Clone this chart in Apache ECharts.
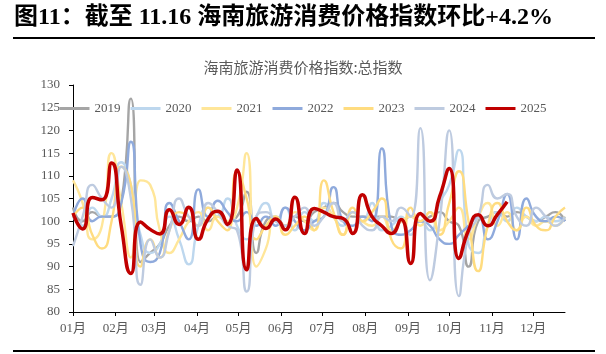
<!DOCTYPE html>
<html>
<head>
<meta charset="utf-8">
<script src="https://cdn.jsdelivr.net/npm/echarts@6/dist/echarts.min.js"></script>
<style>
  html, body { margin: 0; padding: 0; background: #fff; }
  #main { width: 606px; height: 354px; }
</style>
</head>
<body>
<div id="main"></div>
<script>
// weekly dates (all years mapped onto one calendar year)
const weekDates = [
  "01-05", "01-12", "01-19", "01-26", "02-02", "02-09", "02-16", "02-23",
  "03-02", "03-09", "03-16", "03-23", "03-30", "04-06", "04-13", "04-20",
  "04-27", "05-04", "05-11", "05-18", "05-25", "06-01", "06-08", "06-15",
  "06-22", "06-29", "07-06", "07-13", "07-20", "07-27", "08-03", "08-10",
  "08-17", "08-24", "08-31", "09-07", "09-14", "09-21", "09-28", "10-05",
  "10-12", "10-19", "10-26", "11-02", "11-09", "11-16", "11-23", "11-30",
  "12-07", "12-14", "12-21", "12-28",
];
const monthTicks = [
  "01-05", "02-05", "03-05", "04-05", "05-05", "06-05",
  "07-05", "08-05", "09-05", "10-05", "11-05", "12-05",
];
const monthLabels = [
  "01月", "02月", "03月", "04月", "05月", "06月",
  "07月", "08月", "09月", "10月", "11月", "12月",
];
const yearNames = ["2019", "2020", "2021", "2022", "2023", "2024", "2025"];

const v2019 = [103, 100, 102, 101, 101, 104, 127, 91, 93, 95, 99, 101, 100, 101, 100, 101, 100, 101, 106.5, 93, 100, 101, 99, 101, 100, 102, 103, 104, 102, 101, 101, 101, 101, 101, 100, 101, 100, 101, 102, 100, 99, 90, 100, 101, 102, 101, 102, 101, 100, 101, 102, 100];
const v2020 = [101, 99, 103, 101, 105, 113, 108, 97, 93, 95, 101, 96, 90.5, 99, 103, 101, 105, 99, 96, 101, 104, 100, 103, 98, 102, 100, 104, 101, 99, 102, 100, 104, 98, 99, 101, 97, 100, 98, 104, 108, 115.7, 95, 93, 99, 102, 100, 103, 101, 100, 101, 100, 101];
const v2021 = [109, 104, 96, 99, 115, 104, 92, 109, 108, 98, 93, 96, 100, 102, 98, 101, 100, 103, 115, 90, 94, 101, 99, 102, 100, 98, 103, 101, 97, 102, 100, 99, 101, 98, 100, 101, 99, 102, 98, 100, 103, 96, 101, 104, 99, 102, 98, 101, 99, 100, 99, 101];
const v2022 = [101, 105, 100, 101, 101, 104, 117.5, 95, 91, 93, 104, 100, 96, 107, 101, 104.5, 102, 100, 102, 99, 101, 99, 103, 100, 98, 100, 101, 107.5, 100, 99, 101, 100, 116, 99, 97, 98, 100, 99, 96, 95, 97, 99, 101, 96, 100, 106, 96, 105, 101, 100, 101, 100];
const v2023 = [101, 103, 97, 94, 100, 112, 108, 90, 96, 92, 98, 102, 101, 99, 103, 100, 98, 111, 105, 96, 99, 101, 97, 99, 101, 98, 109, 102, 97, 103, 100, 102, 105, 96, 94, 103, 100, 102, 97, 104, 111, 100, 89, 99, 104, 100, 98, 103, 99, 98, 101, 103];
const v2024 = [94.5, 101, 108, 105, 103, 112, 105, 86, 96, 92, 98, 105, 101, 99, 104, 102, 99, 98, 84.5, 101, 102, 100, 99, 101, 103, 99, 101, 104, 100, 102, 99, 98, 101, 100, 103, 101, 120.5, 87, 100, 120, 83.5, 97, 101, 108, 105, 106, 101, 99, 103, 101, 99, 101];
const v2025 = [101.8, 98.3, 105.2, 104.7, 112.8, 99, 88.5, 99.8, 98.2, 97.2, 102.5, 99.3, 103.1, 96, 100.5, 102.2, 99.3, 111.3, 89.3, 100.6, 98.4, 100.5, 98.1, 105.3, 97.3, 102.8, 102, 101, 100.6, 97.3, 105.8, 101, 99, 97.3, 100.4, 90.7, 101.7, 100, 105.4, 111.6, 91.8, 98, 101.4, 99, 101.5, 104.3];

const yearValues = [v2019, v2020, v2021, v2022, v2023, v2024, v2025];
const yearColors = ["#A5A5A5", "#BDD7EE", "#FFE699", "#8FAADC", "#FFDC80", "#BECBE0", "#C00000"];

const dayOf = (s) =>
  (Date.UTC(2025, +s.slice(0, 2) - 1, +s.slice(3)) - Date.UTC(2025, 0, 1)) / 86400000;
const tickDays = monthTicks.map(dayOf);

const serifFont = "'Times New Roman', 'Liberation Serif', 'Noto Sans CJK SC'";

const chart = echarts.init(document.getElementById("main"));

const series = yearNames.map((name, idx) => {
  const isLast = name === "2025";
  return {
    name: name,
    type: "line",
    smooth: 0.6,
    showSymbol: false,
    color: yearColors[idx],
    lineStyle: { color: yearColors[idx], width: isLast ? 3.5 : 2.4 },
    z: isLast ? 10 : 2,
    data: yearValues[idx].map((v, i) => [dayOf(weekDates[i]), v]),
  };
});

chart.setOption({
  animation: false,
  title: {
    text: "海南旅游消费价格指数:总指数",
    left: "center",
    top: 55,
    textStyle: {
      fontFamily: "'Noto Sans CJK SC'",
      fontSize: 15,
      fontWeight: "normal",
      color: "#595959",
    },
  },
  legend: {
    data: yearNames,
    left: "center",
    top: 97,
    icon: "rect",
    itemWidth: 30,
    itemHeight: 3,
    itemGap: 10,
    textStyle: { fontFamily: serifFont, fontSize: 13, color: "#595959" },
  },
  grid: { left: 73, right: 41, top: 85, bottom: 42 },
  xAxis: {
    type: "value",
    min: dayOf(weekDates[0]),
    max: dayOf(weekDates[weekDates.length - 1]),
    splitLine: { show: false },
    axisLine: { show: true, lineStyle: { color: "#000", width: 1 } },
    axisTick: {
      show: true,
      customValues: tickDays,
      length: 4,
      lineStyle: { color: "#000" },
    },
    axisLabel: {
      customValues: tickDays,
      margin: 10,
      fontFamily: serifFont,
      fontSize: 13,
      color: "#595959",
      formatter: (value) => monthLabels[tickDays.indexOf(value)] || "",
    },
  },
  yAxis: {
    type: "value",
    min: 80,
    max: 130,
    interval: 5,
    splitLine: { show: false },
    axisLine: { show: true, lineStyle: { color: "#000", width: 1 } },
    axisTick: { show: true, length: 4, lineStyle: { color: "#000" } },
    axisLabel: {
      margin: 13,
      fontFamily: serifFont,
      fontSize: 13,
      color: "#595959",
    },
  },
  graphic: [
    {
      type: "text",
      left: 14,
      top: 6,
      style: {
        text: "图11：截至 11.16 海南旅游消费价格指数环比+4.2%",
        font: "bold 24px 'Times New Roman', 'Liberation Serif', 'Noto Sans CJK SC'",
        fill: "#000",
      },
    },
    {
      type: "rect",
      shape: { x: 13, y: 37, width: 582, height: 2 },
      style: { fill: "#000" },
    },
    {
      type: "rect",
      shape: { x: 13, y: 350, width: 582, height: 2 },
      style: { fill: "#000" },
    },
  ],
  series: series,
});
</script>
</body>
</html>
